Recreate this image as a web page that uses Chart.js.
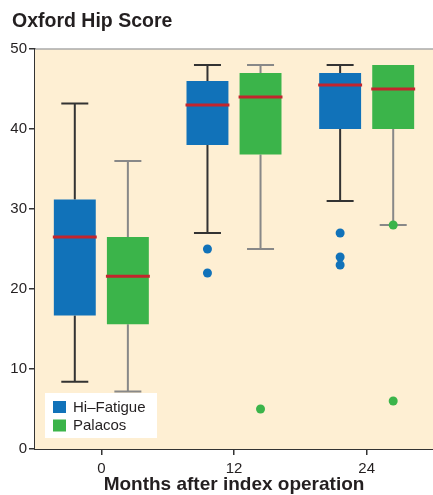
<!DOCTYPE html>
<html>
<head>
<meta charset="utf-8">
<script src="https://cdn.jsdelivr.net/npm/chart.js@4.4.0/dist/chart.umd.min.js"></script>
<style>
  html, body { margin: 0; padding: 0; background: #fff; }
  #wrap { width: 433px; height: 495px; }
</style>
</head>
<body>
<div id="wrap"><canvas id="hipChart"></canvas></div>
<script>
const months = ['0', '12', '24'];

// Hi-Fatigue box plot values
const hiMin = [8.4, 27, 31];
const hiQ1 = [16.7, 38, 40];
const hiMedian = [26.5, 43, 45.5];
const hiQ3 = [31.2, 46, 47];
const hiMax = [43.2, 48, 48];
const hiOutliers = [[], [25, 22], [27, 24, 23]];

// Palacos box plot values
const paMin = [7.2, 25, 28];
const paQ1 = [15.6, 36.8, 40];
const paMedian = [21.6, 44, 45];
const paQ3 = [26.5, 47, 48];
const paMax = [36, 48, 48];
const paOutliers = [[], [5], [28, 6]];

const yTicks = [0, 10, 20, 30, 40, 50];

const blue = '#1172b9';
const green = '#3bb44a';
const cream = '#feefd3';
const red = '#c3252d';
const fontFamily = '"Liberation Sans", Arial, sans-serif';

const boxStats = [
    { min: hiMin, median: hiMedian, max: hiMax, outliers: hiOutliers, whisker: '#333333', color: blue },
    { min: paMin, median: paMedian, max: paMax, outliers: paOutliers, whisker: '#888888', color: green }
];

// background, whiskers, medians, outliers, legend and title
const boxPlugin = {
    id: 'boxPlugin',
    beforeDatasetsDraw(chart) {
        const { ctx, chartArea: a } = chart;
        ctx.save();
        ctx.fillStyle = cream;
        ctx.fillRect(a.left, a.top, a.right - a.left, a.bottom - a.top);
        ctx.strokeStyle = '#aaaaaa';
        ctx.lineWidth = 1.5;
        ctx.beginPath();
        ctx.moveTo(a.left, a.top);
        ctx.lineTo(a.right, a.top);
        ctx.stroke();
        ctx.restore();

        // whiskers behind the boxes
        const y = chart.scales.y;
        boxStats.forEach((s, di) => {
            const meta = chart.getDatasetMeta(di);
            meta.data.forEach((bar, i) => {
                const x = bar.x;
                const q1 = chart.data.datasets[di].data[i][0];
                const q3 = chart.data.datasets[di].data[i][1];
                ctx.save();
                ctx.strokeStyle = s.whisker;
                ctx.lineWidth = 2;
                ctx.beginPath();
                ctx.moveTo(x, y.getPixelForValue(q1));
                ctx.lineTo(x, y.getPixelForValue(s.min[i]));
                ctx.moveTo(x - 13.5, y.getPixelForValue(s.min[i]));
                ctx.lineTo(x + 13.5, y.getPixelForValue(s.min[i]));
                if (s.max[i] > q3) {
                    ctx.moveTo(x, y.getPixelForValue(q3));
                    ctx.lineTo(x, y.getPixelForValue(s.max[i]));
                    ctx.moveTo(x - 13.5, y.getPixelForValue(s.max[i]));
                    ctx.lineTo(x + 13.5, y.getPixelForValue(s.max[i]));
                }
                ctx.stroke();
                ctx.restore();
            });
        });
    },
    afterDatasetsDraw(chart) {
        const { ctx } = chart;
        const y = chart.scales.y;
        boxStats.forEach((s, di) => {
            const meta = chart.getDatasetMeta(di);
            meta.data.forEach((bar, i) => {
                const x = bar.x;
                const half = bar.width / 2;
                ctx.save();
                ctx.strokeStyle = red;
                ctx.lineWidth = 3;
                ctx.beginPath();
                ctx.moveTo(x - half - 1, y.getPixelForValue(s.median[i]));
                ctx.lineTo(x + half + 1, y.getPixelForValue(s.median[i]));
                ctx.stroke();
                ctx.fillStyle = s.color;
                s.outliers[i].forEach(v => {
                    ctx.beginPath();
                    ctx.arc(x, y.getPixelForValue(v), 4.5, 0, Math.PI * 2);
                    ctx.fill();
                });
                ctx.restore();
            });
        });
    },
    afterDraw(chart) {
        const { ctx } = chart;
        ctx.save();
        // title
        ctx.fillStyle = '#231f20';
        ctx.font = 'bold 19.5px ' + fontFamily;
        ctx.textBaseline = 'alphabetic';
        ctx.fillText('Oxford Hip Score', 12, 27);

        // legend
        ctx.fillStyle = '#ffffff';
        ctx.fillRect(45, 393, 112, 45);
        const items = [['Hi\u2013Fatigue', blue], ['Palacos', green]];
        items.forEach((it, k) => {
            const top = 401 + k * 18.5;
            ctx.fillStyle = it[1];
            ctx.fillRect(53, top, 13, 12);
            ctx.fillStyle = '#231f20';
            ctx.font = '15px ' + fontFamily;
            ctx.textBaseline = 'middle';
            ctx.fillText(it[0], 73, top + 6.5);
        });
        ctx.restore();
    }
};

new Chart(document.getElementById('hipChart'), {
    type: 'bar',
    data: {
        labels: months,
        datasets: [
            {
                label: 'Hi\u2013Fatigue',
                data: hiQ1.map((v, i) => [v, hiQ3[i]]),
                backgroundColor: blue,
                borderWidth: 0
            },
            {
                label: 'Palacos',
                data: paQ1.map((v, i) => [v, paQ3[i]]),
                backgroundColor: green,
                borderWidth: 0
            }
        ]
    },
    options: {
        responsive: true,
        maintainAspectRatio: false,
        animation: false,
        layout: { padding: { top: 49, right: 0, left: 0, bottom: 0 } },
        datasets: {
            bar: { categoryPercentage: 0.8, barPercentage: 0.79, grouped: true }
        },
        plugins: {
            legend: { display: false },
            tooltip: { enabled: false }
        },
        scales: {
            x: {
                offset: true,
                afterFit(scale) { scale.height = 46; },
                grid: { offset: false, drawOnChartArea: false, drawTicks: true, tickLength: 6, color: '#333', lineWidth: 1.5 },
                border: { display: true, color: '#333', width: 2 },
                ticks: { color: '#231f20', font: { size: 15, family: fontFamily }, padding: 5 },
                title: {
                    display: true,
                    text: 'Months after index operation',
                    color: '#231f20',
                    font: { size: 19, weight: 'bold', family: fontFamily, lineHeight: 1.05 },
                    padding: { top: 0, bottom: 0 }
                }
            },
            y: {
                min: 0,
                max: 50,
                afterBuildTicks(scale) {
                    scale.ticks = yTicks.map(v => ({ value: v }));
                },
                afterFit(scale) { scale.width = 35; },
                grid: { drawOnChartArea: false, drawTicks: true, tickLength: 6, color: '#333', lineWidth: 1.5 },
                border: { display: true, color: '#333', width: 2 },
                ticks: { color: '#231f20', font: { size: 15, family: fontFamily }, padding: 2 }
            }
        }
    },
    plugins: [boxPlugin]
});
</script>
</body>
</html>
